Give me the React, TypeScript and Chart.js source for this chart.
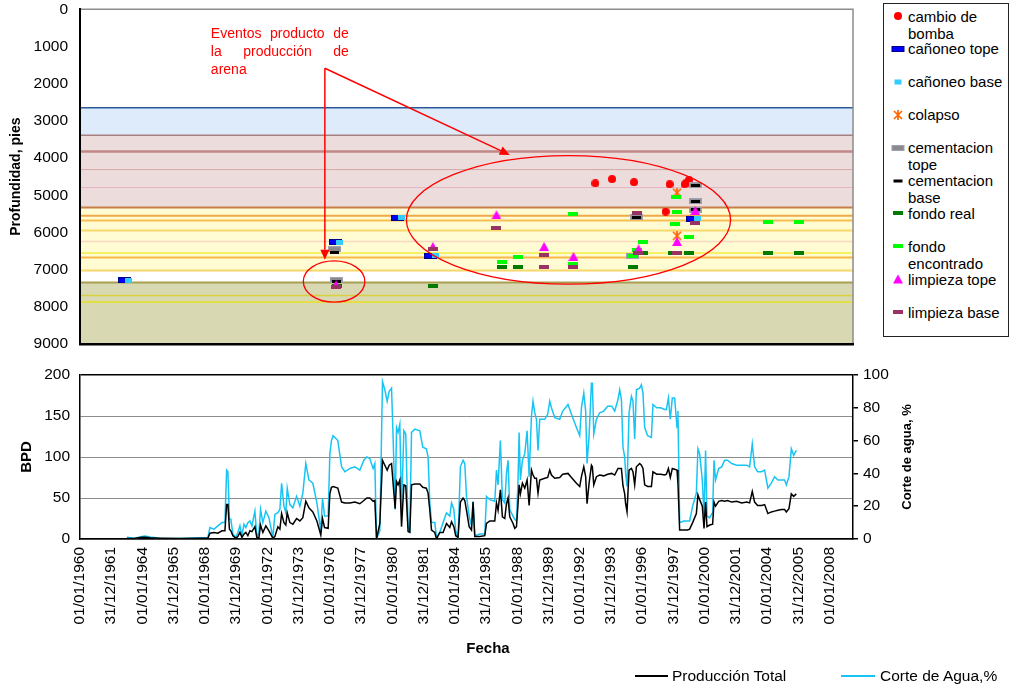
import React, { useEffect, useRef } from "react";
import { Chart, registerables } from "chart.js";

Chart.register(...registerables);

const FONT = "'Liberation Sans', Arial, Helvetica, sans-serif";
Chart.defaults.font.family = FONT;
Chart.defaults.color = "#000";

// ---------------- Eje de fechas ----------------
const etiquetasFecha = [
  "01/01/1960", "31/12/1961", "01/01/1964", "31/12/1965", "01/01/1968", "31/12/1969",
  "01/01/1972", "31/12/1973", "01/01/1976", "31/12/1977", "01/01/1980", "31/12/1981",
  "01/01/1984", "31/12/1985", "01/01/1988", "31/12/1989", "01/01/1992", "31/12/1993",
  "01/01/1996", "31/12/1997", "01/01/2000", "31/12/2001", "01/01/2004", "31/12/2005",
  "01/01/2008",
];
const FECHA_MIN = 1960;
const FECHA_MAX = 2009.5;

function fechaDecimal(s: string): number {
  const [d, m, y] = s.split("/").map(Number);
  const ini = Date.UTC(y, 0, 1);
  const fin = Date.UTC(y + 1, 0, 1);
  return y + (Date.UTC(y, m - 1, d) - ini) / (fin - ini);
}
const valoresFecha = etiquetasFecha.map(fechaDecimal);

// ---------------- Producción (gráfico inferior) ----------------
const fechas = [
  1963.0, 1963.52, 1963.97, 1964.16, 1964.48, 1965.12, 1966.4, 1967.68, 1968.19, 1968.32,
  1968.58, 1968.83, 1969.09, 1969.28, 1969.39, 1969.47, 1969.57, 1969.66, 1969.79, 1969.98,
  1970.11, 1970.24, 1970.37, 1970.5, 1970.62, 1970.75, 1970.88, 1971.01, 1971.2, 1971.33,
  1971.46, 1971.56, 1971.71, 1971.9, 1972.1, 1972.35, 1972.48, 1972.67, 1972.8, 1972.91,
  1973.06, 1973.18, 1973.27, 1973.44, 1973.63, 1973.87, 1974.08, 1974.27, 1974.46, 1974.66,
  1974.91, 1975.17, 1975.42, 1975.53, 1975.66, 1975.89, 1976.0, 1976.1, 1976.21, 1976.51,
  1976.75, 1976.96, 1977.28, 1977.6, 1977.92, 1978.18, 1978.37, 1978.56, 1978.77, 1978.88,
  1978.99, 1979.2, 1979.37, 1979.52, 1979.67, 1979.8, 1979.95, 1980.05, 1980.18, 1980.27,
  1980.37, 1980.48, 1980.59, 1980.74, 1980.86, 1981.01, 1981.12, 1981.23, 1981.44, 1981.76,
  1981.95, 1982.18, 1982.29, 1982.4, 1982.51, 1982.72, 1982.83, 1983.04, 1983.25, 1983.47,
  1983.68, 1983.79, 1983.94, 1984.06, 1984.21, 1984.36, 1984.53, 1984.64, 1984.75, 1984.92,
  1985.07, 1985.17, 1985.28, 1985.6, 1985.92, 1986.03, 1986.24, 1986.56, 1986.67, 1986.77,
  1986.92, 1987.05, 1987.2, 1987.31, 1987.41, 1987.52, 1987.73, 1987.84, 1987.95, 1988.05,
  1988.12, 1988.2, 1988.33, 1988.48, 1988.63, 1988.76, 1988.91, 1989.01, 1989.12, 1989.23,
  1989.33, 1989.44, 1989.76, 1989.95, 1990.08, 1990.19, 1990.4, 1990.72, 1990.91, 1991.25,
  1991.47, 1991.79, 1992.0, 1992.11, 1992.26, 1992.38, 1992.47, 1992.6, 1992.75, 1992.81,
  1992.9, 1993.07, 1993.28, 1993.54, 1993.79, 1994.05, 1994.24, 1994.45, 1994.56, 1994.67,
  1994.77, 1994.88, 1994.94, 1995.03, 1995.16, 1995.31, 1995.41, 1995.52, 1995.63, 1995.84,
  1995.95, 1996.05, 1996.16, 1996.35, 1996.59, 1996.69, 1996.93, 1997.18, 1997.44, 1997.55,
  1997.68, 1997.8, 1997.93, 1998.08, 1998.23, 1998.29, 1998.4, 1998.66, 1998.91, 1999.04,
  1999.23, 1999.47, 1999.57, 1999.68, 1999.85, 1999.96, 2000.06, 2000.15, 2000.32, 2000.51,
  2000.6, 2000.7, 2000.9, 2001.09, 2001.28, 2001.47, 2001.73, 2002.05, 2002.37, 2002.69,
  2002.88, 2003.05, 2003.2, 2003.39, 2003.65, 2003.84, 2004.05, 2004.27, 2004.48, 2004.69,
  2004.93, 2005.12, 2005.23, 2005.4, 2005.55, 2005.7, 2005.87,
];

// BPD
const produccionTotal = [
  0.5, 1, 2, 2, 1.5, 1, 0.5, 1, 1, 7,
  8, 7, 10, 10, 42, 42, 12, 10, 4, 1,
  3, 8, 2, 6, 8, 4, 10, 9, 15, 1,
  2, 17, 8, 16, 10, 1, 3, 15, 12, 31,
  20, 17, 32, 20, 18, 25, 22, 26, 46, 38,
  33, 22, 5, 25, 14, 13, 55, 63, 64, 62,
  45, 44, 44, 45, 43, 47, 50, 50, 46, 47,
  0, 19, 96, 90, 84, 90, 92, 68, 37, 70,
  66, 72, 15, 66, 65, 9, 8, 66, 67, 67,
  63, 62, 56, 35, 11, 8, 0, 8, 8, 19,
  14, 21, 15, 4, 2, 45, 50, 47, 35, 15,
  11, 45, 3, 3, 4, 19, 22, 22, 44, 35,
  60, 27, 25, 43, 50, 27, 19, 13, 15, 43,
  66, 55, 68, 62, 72, 41, 84, 78, 74, 74,
  56, 72, 74, 75, 84, 78, 74, 75, 79, 80,
  75, 68, 64, 76, 88, 76, 43, 68, 90, 88,
  66, 76, 78, 77, 79, 80, 78, 86, 86, 86,
  65, 55, 43, 33, 84, 86, 82, 66, 88, 92,
  90, 86, 66, 64, 64, 82, 79, 79, 78, 79,
  86, 75, 86, 85, 84, 68, 11, 11, 11, 12,
  20, 31, 54, 48, 40, 13, 45, 15, 17, 18,
  45, 40, 46, 47, 46, 47, 45, 46, 44, 45,
  44, 58, 45, 41, 41, 42, 31, 33, 34, 35,
  36, 36, 33, 37, 55, 52, 55,
];

// %
const corteAgua = [
  1, 0.5, 1.5, 1.8, 1.2, 0.5, 0.3, 0.8, 0.8, 7,
  6, 8, 10, 10, 42, 41, 12, 12, 3, 1,
  4, 8, 2, 9, 7, 10, 11, 8, 17, 1,
  4, 18, 10, 17, 13, 1, 15, 16, 18, 34,
  20, 16, 31, 21, 19, 26, 20, 28, 46, 36,
  34, 22, 5, 25, 14, 14, 52, 60, 63, 60,
  44, 41, 43, 44, 42, 48, 50, 49, 43, 46,
  0, 5, 96, 91, 84, 90, 92, 62, 18, 68,
  65, 70, 18, 66, 64, 7, 5, 65, 67, 66,
  56, 55, 50, 22, 10, 10, 1, 4, 10, 16,
  14, 22, 18, 5, 1, 44, 48, 46, 26, 14,
  8, 23, 2, 3, 3, 26, 24, 23, 42, 33,
  60, 24, 22, 40, 48, 18, 14, 12, 11, 36,
  65, 36, 48, 52, 66, 38, 75, 84, 77, 73,
  54, 73, 73, 76, 84, 80, 74, 73, 78, 82,
  76, 68, 63, 80, 89, 78, 46, 63, 95, 95,
  64, 73, 77, 78, 81, 81, 78, 85, 91, 85,
  56, 50, 40, 32, 77, 87, 84, 61, 91, 92,
  94, 89, 68, 63, 62, 82, 80, 80, 79, 79,
  86, 73, 86, 86, 68, 78, 10, 11, 11, 11,
  20, 28, 55, 52, 36, 14, 54, 14, 13, 16,
  48, 36, 43, 44, 48, 48, 46, 45, 45, 45,
  44, 58, 44, 41, 41, 42, 31, 34, 38, 36,
  36, 36, 33, 38, 55, 51, 54,
];

// ---------------- Profundidad (gráfico superior) ----------------
const bandaTope = [2650, 3385, 5330, 7345];
const bandaBase = [3385, 5330, 7050, 9000];
const bandaColor = ["#ddebfa", "#ecdcdc", "#fffbd2", "#d8d8b2"];

const contactos = [2650, 3385, 3826, 4310, 4793, 5330, 5553, 5680, 5948, 6244, 6556, 6674, 7023, 7345, 7694, 7872];
const contactoColor = [
  "#2a5a9a", "#a88080", "#c08888", "#d4a8a8", "#e6b4c4", "#c8804a", "#f0a848", "#f8c050",
  "#f8d868", "#f8d8c0", "#f4ee40", "#f8b848", "#f8d870", "#a8a050", "#d8d040", "#e8e020",
];
const contactoAncho = [1.5, 1.5, 2.5, 1, 1, 2, 2, 2, 2, 1.5, 1.5, 2, 2, 2, 1.5, 1.5];

// eventos: [fecha decimal, profundidad en pies]
const cambioBomba = [[1993.0, 4680], [1994.07, 4565], [1995.48, 4650], [1997.76, 4705], [1997.5, 5440], [1998.72, 4705], [1998.84, 4660], [1999.0, 4590]];
const canoneoTope = [[1962.85, 7290], [1976.35, 6260], [1980.3, 5600], [1982.46, 6630], [1999.23, 5634]];
const canoneoBase = [[1963.1, 7290], [1976.6, 6260], [1980.6, 5600], [1982.78, 6630], [1999.52, 5634]];
const colapso = [[1998.23, 4930], [1998.23, 6090]];
const cementacionTope = [[1976.3, 6449], [1976.4, 7280], [1995.4, 6625], [1995.65, 5595], [1999.4, 4735], [1999.4, 5165], [1999.4, 5390]];
const cementacionBase = [[1976.3, 6540], [1976.4, 7320], [1995.4, 6630], [1995.65, 5600], [1999.4, 4740], [1999.4, 5170], [1999.4, 5393]];
const fondoReal = [[1976.45, 7450], [1982.6, 7440], [1987.03, 6933], [1988.05, 6933], [1991.6, 6933], [1995.4, 6933], [1996.08, 6557], [1997.97, 6557], [1999.0, 6557], [2004.05, 6557], [2006.04, 6557]];
const fondoEncontrado = [[1987.03, 6798], [1988.05, 6664], [1991.57, 5500], [1991.6, 6844], [1995.4, 6640], [1995.7, 6468], [1996.05, 6245], [1998.14, 5052], [1998.23, 5455], [1998.08, 5760], [1998.98, 6135], [2004.05, 5724], [2006.04, 5724]];
const limpiezaTope = [[1976.4, 7410], [1982.6, 6380], [1986.67, 5527], [1989.72, 6379], [1991.6, 6647], [1995.77, 6441], [1998.23, 6245], [1999.4, 5411]];
const limpiezaBase = [[1976.4, 7460], [1982.6, 6452], [1986.67, 5868], [1989.72, 6602], [1989.72, 6933], [1991.6, 6933], [1995.67, 5465], [1995.75, 6557], [1998.23, 6557], [1999.4, 5734]];

const eventos = [
  { label: "cambio de bomba", lineas: ["cambio de", "bomba"], marca: "bomba", datos: cambioBomba },
  { label: "cañoneo tope", lineas: ["cañoneo tope"], marca: "canTope", datos: canoneoTope },
  { label: "cañoneo base", lineas: ["cañoneo base"], marca: "canBase", datos: canoneoBase },
  { label: "colapso", lineas: ["colapso"], marca: "colapso", datos: colapso },
  { label: "cementacion tope", lineas: ["cementacion", "tope"], marca: "cemTope", datos: cementacionTope },
  { label: "cementacion base", lineas: ["cementacion", "base"], marca: "cemBase", datos: cementacionBase },
  { label: "fondo real", lineas: ["fondo real"], marca: "fondoReal", datos: fondoReal },
  { label: "fondo encontrado", lineas: ["fondo", "encontrado"], marca: "fondoEnc", datos: fondoEncontrado },
  { label: "limpieza tope", lineas: ["limpieza tope"], marca: "limpTope", datos: limpiezaTope },
  { label: "limpieza base", lineas: ["limpieza base"], marca: "limpBase", datos: limpiezaBase },
];

type Estilo = { tipo: string; w: number; h: number; fill: string; stroke?: string };
const estiloMarca: Record<string, Estilo> = {
  bomba: { tipo: "dot", w: 8, h: 8, fill: "#ff0000" },
  canTope: { tipo: "rect", w: 13, h: 6, fill: "#0000ff", stroke: "#00008b" },
  canBase: { tipo: "rect", w: 7, h: 5, fill: "#33ccff" },
  colapso: { tipo: "star", w: 10, h: 10, fill: "#ff6600" },
  cemTope: { tipo: "rect", w: 13, h: 6, fill: "#8a8a8a", stroke: "#a0a0b4" },
  cemBase: { tipo: "rect", w: 9, h: 3, fill: "#000000" },
  fondoReal: { tipo: "rect", w: 10, h: 4, fill: "#007a00" },
  fondoEnc: { tipo: "rect", w: 10, h: 4, fill: "#00ff00" },
  limpTope: { tipo: "tri", w: 10, h: 9, fill: "#ff00ff" },
  limpBase: { tipo: "rect", w: 10, h: 4, fill: "#993366" },
};

function pintarMarca(c: HTMLCanvasElement, e: Estilo) {
  c.width = e.w;
  c.height = e.h;
  const g = c.getContext("2d")!;
  g.clearRect(0, 0, e.w, e.h);
  if (e.tipo === "rect") {
    g.fillStyle = e.stroke || e.fill;
    g.fillRect(0, 0, e.w, e.h);
    if (e.stroke) {
      g.fillStyle = e.fill;
      g.fillRect(1, 1, e.w - 2, e.h - 2);
    }
  } else if (e.tipo === "dot") {
    g.fillStyle = e.fill;
    g.beginPath();
    g.arc(e.w / 2, e.h / 2, e.w / 2, 0, Math.PI * 2);
    g.fill();
  } else if (e.tipo === "tri") {
    g.fillStyle = e.fill;
    g.beginPath();
    g.moveTo(e.w / 2, 0);
    g.lineTo(e.w, e.h);
    g.lineTo(0, e.h);
    g.closePath();
    g.fill();
  } else if (e.tipo === "star") {
    g.strokeStyle = e.fill;
    g.lineWidth = 1.7;
    g.beginPath();
    g.moveTo(1, 1); g.lineTo(e.w - 1, e.h - 1);
    g.moveTo(e.w - 1, 1); g.lineTo(1, e.h - 1);
    g.moveTo(e.w / 2, 0); g.lineTo(e.w / 2, e.h);
    g.stroke();
  }
  return c;
}

// ---------------- Anotaciones (en coordenadas de datos) ----------------
const anotacionLineas = ["Eventos producto de", "la producción de", "arena"];
const anotacionCaja = { x0: 1968.38, x1: 1977.21, y0: 771 };
const flechaOrigen = { x: 1975.68, y: 1585 };
const flechaPuntas = [{ x: 1975.68, y: 6736 }, { x: 1987.52, y: 3915 }];
const elipses = [
  { cx: 1976.27, cy: 7319, rx: 1.97, ry: 556 },
  { cx: 1991.28, cy: 5662, rx: 10.38, ry: 1728 },
];

const ROJO = "#ff0000";

const pluginAnotaciones = {
  id: "anotaciones",
  afterDatasetsDraw(chart: any) {
    const { ctx, chartArea: a } = chart;
    const sx = chart.scales.x;
    const sy = chart.scales.y;
    ctx.save();
    // marco superior y derecho
    ctx.strokeStyle = "#8c8c8c";
    ctx.lineWidth = 1.5;
    ctx.beginPath();
    ctx.moveTo(a.left, a.top);
    ctx.lineTo(a.right, a.top);
    ctx.lineTo(a.right, a.bottom);
    ctx.stroke();

    // elipses
    ctx.strokeStyle = ROJO;
    ctx.lineWidth = 1.3;
    elipses.forEach((e) => {
      const cx = sx.getPixelForValue(e.cx);
      const cy = sy.getPixelForValue(e.cy);
      const rx = Math.abs(sx.getPixelForValue(e.cx + e.rx) - cx);
      const ry = Math.abs(sy.getPixelForValue(e.cy + e.ry) - cy);
      ctx.beginPath();
      ctx.ellipse(cx, cy, rx, ry, 0, 0, Math.PI * 2);
      ctx.stroke();
    });

    // flechas
    const ox = sx.getPixelForValue(flechaOrigen.x);
    const oy = sy.getPixelForValue(flechaOrigen.y);
    ctx.fillStyle = ROJO;
    ctx.lineWidth = 1.5;
    flechaPuntas.forEach((p) => {
      const tx = sx.getPixelForValue(p.x);
      const ty = sy.getPixelForValue(p.y);
      const len = Math.hypot(tx - ox, ty - oy);
      const ux = (tx - ox) / len;
      const uy = (ty - oy) / len;
      const hl = 10, hw = 4.5;
      ctx.beginPath();
      ctx.moveTo(ox, oy);
      ctx.lineTo(tx - ux * hl, ty - uy * hl);
      ctx.stroke();
      ctx.beginPath();
      ctx.moveTo(tx, ty);
      ctx.lineTo(tx - ux * hl - uy * hw, ty - uy * hl + ux * hw);
      ctx.lineTo(tx - ux * hl + uy * hw, ty - uy * hl - ux * hw);
      ctx.closePath();
      ctx.fill();
    });

    // texto justificado
    const x0 = sx.getPixelForValue(anotacionCaja.x0);
    const x1 = sx.getPixelForValue(anotacionCaja.x1);
    const y0 = sy.getPixelForValue(anotacionCaja.y0);
    ctx.font = `14px ${FONT}`;
    ctx.textBaseline = "alphabetic";
    ctx.textAlign = "left";
    anotacionLineas.forEach((linea, i) => {
      const y = y0 + i * 18;
      const palabras = linea.split(" ");
      if (i === anotacionLineas.length - 1 || palabras.length < 2) {
        ctx.fillText(linea, x0, y);
        return;
      }
      const anchos = palabras.map((w) => ctx.measureText(w).width);
      const total = anchos.reduce((s, v) => s + v, 0);
      const gap = (x1 - x0 - total) / (palabras.length - 1);
      let x = x0;
      palabras.forEach((w, k) => {
        ctx.fillText(w, x, y);
        x += anchos[k] + gap;
      });
    });
    ctx.restore();
  },
};

const pluginTituloDerecho = {
  id: "tituloDerecho",
  afterDraw(chart: any) {
    const s = chart.scales.y1;
    const ctx = chart.ctx;
    ctx.save();
    ctx.translate(s.left + 54, (s.top + s.bottom) / 2);
    ctx.rotate(-Math.PI / 2);
    ctx.font = `bold 13px ${FONT}`;
    ctx.fillStyle = "#000";
    ctx.textAlign = "center";
    ctx.textBaseline = "middle";
    ctx.fillText("Corte de agua, %", 0, 0);
    ctx.restore();
  },
};

const TICK_FONT = { size: 15.5 };
const TRANSPARENTE = "rgba(0,0,0,0)";

function configSuperior(): any {
  const datasets: any[] = [];
  bandaTope.forEach((t, i) => {
    datasets.push({
      type: "line",
      label: "banda" + i,
      data: [{ x: FECHA_MIN, y: t }, { x: FECHA_MAX, y: t }],
      showLine: true,
      borderWidth: 0,
      borderColor: TRANSPARENTE,
      backgroundColor: bandaColor[i],
      fill: { value: bandaBase[i] },
      pointRadius: 0,
      order: 100 + i,
    });
  });
  contactos.forEach((d, i) => {
    datasets.push({
      type: "line",
      label: "contacto" + i,
      data: [{ x: FECHA_MIN, y: d }, { x: FECHA_MAX, y: d }],
      showLine: true,
      borderColor: contactoColor[i],
      borderWidth: contactoAncho[i],
      pointRadius: 0,
      fill: false,
      order: 50,
    });
  });
  eventos.forEach((ev, i) => {
    datasets.push({
      type: "scatter",
      label: ev.label,
      data: ev.datos.map(([x, y]) => ({ x, y })),
      pointStyle: pintarMarca(document.createElement("canvas"), estiloMarca[ev.marca]),
      pointRadius: 5,
      showLine: false,
      order: 10 - i,
    });
  });
  return {
    type: "scatter",
    data: { datasets },
    plugins: [pluginAnotaciones],
    options: {
      responsive: false,
      animation: false,
      events: [],
      layout: { padding: { top: 9, right: 27, left: 0, bottom: 0 } },
      plugins: { legend: { display: false }, tooltip: { enabled: false } },
      scales: {
        x: {
          type: "linear",
          min: FECHA_MIN,
          max: FECHA_MAX,
          ticks: { display: false },
          grid: { display: false, drawTicks: false },
          border: { display: true, color: "#000", width: 2.5, z: 1 },
          afterFit: (s: any) => { s.height = 16; },
        },
        y: {
          type: "linear",
          reverse: true,
          min: 0,
          max: 9000,
          ticks: { stepSize: 1000, font: TICK_FONT, color: "#000", padding: 0, callback: (v: any) => String(v) },
          grid: { display: true, drawOnChartArea: false, drawTicks: true, tickLength: 12, color: TRANSPARENTE },
          border: { display: true, color: "#000", width: 2, z: 1 },
          title: {
            display: true,
            text: "Profundidad, pies",
            color: "#000",
            font: { size: 14, weight: "bold" },
            padding: { top: 8, bottom: 0 },
          },
          afterFit: (s: any) => { s.width = 80; },
        },
      },
    },
  };
}

function configInferior(): any {
  return {
    type: "line",
    data: {
      datasets: [
        {
          label: "Producción Total",
          data: fechas.map((x, i) => ({ x, y: produccionTotal[i] })),
          borderColor: "#000000",
          borderWidth: 1.5,
          pointRadius: 0,
          tension: 0,
          yAxisID: "y",
          order: 0,
        },
        {
          label: "Corte de Agua,%",
          data: fechas.map((x, i) => ({ x, y: corteAgua[i] })),
          borderColor: "#18c4f4",
          borderWidth: 1.5,
          pointRadius: 0,
          tension: 0,
          yAxisID: "y1",
          order: 1,
        },
      ],
    },
    plugins: [pluginTituloDerecho],
    options: {
      responsive: false,
      animation: false,
      events: [],
      layout: { padding: { top: 15, right: 0, left: 0, bottom: 0 } },
      plugins: { legend: { display: false }, tooltip: { enabled: false } },
      scales: {
        x: {
          type: "linear",
          min: FECHA_MIN,
          max: FECHA_MAX,
          afterBuildTicks: (s: any) => {
            s.ticks = valoresFecha.map((v) => ({ value: v }));
          },
          ticks: {
            autoSkip: false,
            minRotation: 90,
            maxRotation: 90,
            font: TICK_FONT,
            color: "#000",
            padding: 8,
            callback: (_v: any, i: number) => etiquetasFecha[i],
          },
          grid: { display: false, drawTicks: false },
          border: { display: true, color: "#000", width: 1.5 },
          afterFit: (s: any) => { s.height = 150; },
        },
        y: {
          type: "linear",
          position: "left",
          min: 0,
          max: 200,
          ticks: { stepSize: 50, font: TICK_FONT, color: "#000", padding: 0, callback: (v: any) => String(v) },
          grid: {
            drawTicks: true,
            tickLength: 10,
            tickColor: TRANSPARENTE,
            color: (c: any) => (c.tick && c.tick.value === 200 ? "#000" : "#8c8c8c"),
            lineWidth: (c: any) => (c.tick && c.tick.value === 200 ? 1.5 : 1),
          },
          border: { display: true, color: "#000", width: 1.5 },
          title: {
            display: true,
            text: "BPD",
            color: "#000",
            font: { size: 15, weight: "bold" },
            padding: { top: 18, bottom: 0 },
          },
          afterFit: (s: any) => { s.width = 80; },
        },
        y1: {
          type: "linear",
          position: "right",
          min: 0,
          max: 100,
          ticks: { stepSize: 20, font: TICK_FONT, color: "#000", padding: 5, callback: (v: any) => String(v) },
          grid: { drawOnChartArea: false, drawTicks: true, tickLength: 5, color: "#000", lineWidth: 1.5 },
          border: { display: true, color: "#000", width: 1.5 },
          afterFit: (s: any) => { s.width = 159; },
        },
      },
    },
  };
}

function MarcaLeyenda({ marca }: { marca: string }) {
  const ref = useRef<HTMLCanvasElement>(null);
  useEffect(() => {
    if (ref.current) pintarMarca(ref.current, estiloMarca[marca]);
  }, [marca]);
  const e = estiloMarca[marca];
  return <canvas ref={ref} width={e.w} height={e.h} style={{ display: "block" }} />;
}

export default function App() {
  const topRef = useRef<HTMLCanvasElement>(null);
  const botRef = useRef<HTMLCanvasElement>(null);

  useEffect(() => {
    const top = new Chart(topRef.current!, configSuperior());
    const bot = new Chart(botRef.current!, configInferior());
    return () => {
      top.destroy();
      bot.destroy();
    };
  }, []);

  return (
    <div style={{ position: "absolute", left: 0, top: 0, width: 1012, height: 689, background: "#fff", fontFamily: FONT, color: "#000" }}>
      <canvas ref={topRef} width={880} height={360} style={{ position: "absolute", left: 0, top: 0, display: "block" }} />
      <canvas ref={botRef} width={1012} height={329} style={{ position: "absolute", left: 0, top: 360, display: "block" }} />

      {/* Leyenda de eventos */}
      <div style={{ position: "absolute", left: 883, top: 3, width: 126, height: 334, border: "1px solid #222", boxSizing: "border-box" }}>
        {eventos.map((ev, i) => {
          const cy = 12 + 32.9 * i;
          return (
            <React.Fragment key={ev.label}>
              <div style={{ position: "absolute", left: 14, top: cy, transform: "translate(-50%, -50%)" }}>
                <MarcaLeyenda marca={ev.marca} />
              </div>
              <div style={{ position: "absolute", left: 24, top: cy - 8.5, fontSize: 15, lineHeight: "17px", whiteSpace: "nowrap" }}>
                {ev.lineas.map((l, k) => (
                  <div key={k}>{l}</div>
                ))}
              </div>
            </React.Fragment>
          );
        })}
      </div>

      {/* Título del eje x */}
      <div style={{ position: "absolute", left: 438, top: 639, width: 100, textAlign: "center", fontWeight: "bold", fontSize: 15, lineHeight: "18px" }}>
        Fecha
      </div>

      {/* Leyenda de producción */}
      <div style={{ position: "absolute", left: 635, top: 675, width: 33, height: 1.5, background: "#000" }} />
      <div style={{ position: "absolute", left: 672, top: 667, fontSize: 15.5, lineHeight: "18px", whiteSpace: "nowrap" }}>Producción Total</div>
      <div style={{ position: "absolute", left: 841, top: 675, width: 34, height: 1.5, background: "#18c4f4" }} />
      <div style={{ position: "absolute", left: 880, top: 667, fontSize: 15.5, lineHeight: "18px", whiteSpace: "nowrap" }}>Corte de Agua,%</div>
    </div>
  );
}
